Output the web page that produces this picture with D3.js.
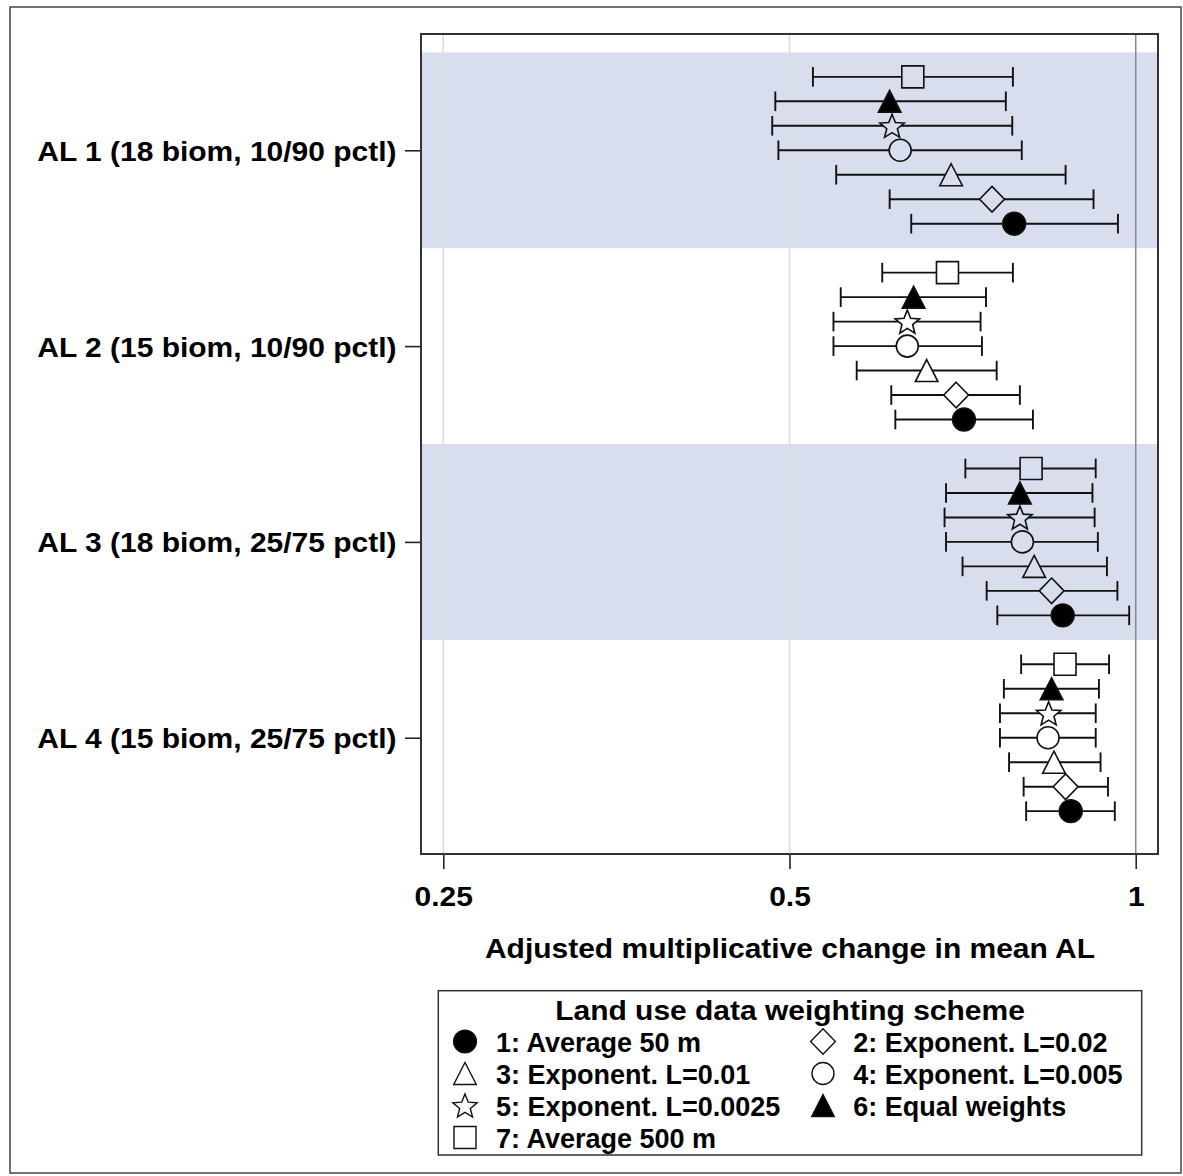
<!DOCTYPE html>
<html><head><meta charset="utf-8">
<script src="https://cdn.jsdelivr.net/npm/d3@7"></script>
<style>
body{margin:0;background:#fff}
text{font-family:"Liberation Sans",Arial,Helvetica,sans-serif;font-weight:bold;fill:#000}
</style>
</head><body>
<svg id="c" width="1183" height="1176"></svg>
<script>
// ---------- data ----------
const groups = [
  "AL 1 (18 biom, 10/90 pctl)",
  "AL 2 (15 biom, 10/90 pctl)",
  "AL 3 (18 biom, 25/75 pctl)",
  "AL 4 (15 biom, 25/75 pctl)"
];
const seriesNames = [
  "1: Average 50 m",
  "2: Exponent. L=0.02",
  "3: Exponent. L=0.01",
  "4: Exponent. L=0.005",
  "5: Exponent. L=0.0025",
  "6: Equal weights",
  "7: Average 500 m"
];
const seriesSymbols = ["circleFilled","diamond","triangle","circle","star","triangleFilled","square"];
// estimates per series (rows) and per group (columns)
const estimate = [
  [0.784, 0.709, 0.864, 0.878],
  [0.750, 0.698, 0.845, 0.869],
  [0.691, 0.658, 0.816, 0.849],
  [0.624, 0.633, 0.797, 0.839],
  [0.614, 0.633, 0.793, 0.840],
  [0.611, 0.641, 0.793, 0.845],
  [0.640, 0.686, 0.811, 0.868]
];
const lower = [
  [0.638, 0.618, 0.758, 0.803],
  [0.611, 0.613, 0.742, 0.799],
  [0.549, 0.572, 0.707, 0.776],
  [0.489, 0.546, 0.684, 0.762],
  [0.483, 0.546, 0.682, 0.762],
  [0.486, 0.554, 0.684, 0.768],
  [0.524, 0.602, 0.711, 0.795]
];
const upper = [
  [0.965, 0.814, 0.987, 0.959],
  [0.919, 0.793, 0.964, 0.946],
  [0.869, 0.757, 0.944, 0.932],
  [0.796, 0.735, 0.927, 0.923],
  [0.781, 0.733, 0.921, 0.923],
  [0.771, 0.741, 0.917, 0.929],
  [0.782, 0.782, 0.923, 0.948]
];
const xTicks = [0.25, 0.5, 1];
const xTickLabels = ["0.25", "0.5", "1"];
const xTitle = "Adjusted multiplicative change in mean AL";
const legendTitle = "Land use data weighting scheme";

// ---------- layout ----------
const L = 421, R = 1158, T = 34, B = 854;
const bandColor = "#d8deee";
const svg = d3.select("#c");

svg.append("rect").attr("x", 10).attr("y", 7).attr("width", 1171).attr("height", 1166)
  .attr("fill", "#fff").attr("stroke", "#444").attr("stroke-width", 1.5);

const x = d3.scaleLog().domain([0.2391, 1.0456]).range([L, R]);
const y = d3.scaleLinear().domain([-1.75, 31.75]).range([T, B]);
const rowOf = (s, g) => g * 8 + (6 - s);

// bands
groups.forEach((g, i) => {
  if (i % 2 === 0) {
    svg.append("rect").attr("x", L).attr("width", R - L)
      .attr("y", y(i * 8 - 1)).attr("height", y(i * 8 + 7) - y(i * 8 - 1))
      .attr("fill", bandColor);
  }
});

// gridlines
svg.append("g").selectAll("line").data(xTicks).join("line")
  .attr("x1", d => x(d)).attr("x2", d => x(d)).attr("y1", T).attr("y2", B)
  .attr("stroke", d => d === 1 ? "#8a8a8a" : "#dcdcdc").attr("stroke-width", 1.5);

// ---------- symbols ----------
function symPath(type) {
  const p = d3.path();
  switch (type) {
    case "circle": case "circleFilled": {
      const r = type === "circle" ? 11 : 11.4;
      p.moveTo(r, 0); p.arc(0, 0, r, 0, 2 * Math.PI); p.closePath(); break;
    }
    case "square": p.rect(-11, -11, 22, 22); break;
    case "triangle": case "triangleFilled":
      p.moveTo(0, -11); p.lineTo(11.3, 11); p.lineTo(-11.3, 11); p.closePath(); break;
    case "diamond":
      p.moveTo(0, -12.8); p.lineTo(12.4, 0); p.lineTo(0, 12.8); p.lineTo(-12.4, 0); p.closePath(); break;
    case "star": {
      const Ro = 12.8, Ri = 5.6, off = (Ro - Ro * Math.cos(Math.PI / 5)) / 2;
      for (let i = 0; i < 10; i++) {
        const r = i % 2 ? Ri : Ro, a = -Math.PI / 2 + i * Math.PI / 5;
        const px = r * Math.cos(a), py = r * Math.sin(a) + off;
        if (i === 0) p.moveTo(px, py); else p.lineTo(px, py);
      }
      p.closePath(); break;
    }
  }
  return p.toString();
}
const isFilled = t => t === "circleFilled" || t === "triangleFilled";

// ---------- error bars ----------
const pts = [];
for (let s = 6; s >= 0; s--) {
  for (let g = 0; g < groups.length; g++) {
    pts.push({ s, g, est: estimate[s][g], lo: lower[s][g], hi: upper[s][g] });
  }
}
const bars = svg.append("g").attr("stroke", "#111").attr("stroke-width", 1.9).attr("fill", "none");
pts.forEach(d => {
  const yy = y(rowOf(d.s, d.g));
  bars.append("line").attr("x1", x(d.lo)).attr("x2", x(d.hi)).attr("y1", yy).attr("y2", yy);
  [d.lo, d.hi].forEach(v => bars.append("line").attr("x1", x(v)).attr("x2", x(v)).attr("y1", yy - 9.8).attr("y2", yy + 9.8));
});

// markers
svg.append("g").selectAll("path").data(pts).join("path")
  .attr("transform", d => `translate(${x(d.est)},${y(rowOf(d.s, d.g))})`)
  .attr("d", d => symPath(seriesSymbols[d.s]))
  .attr("fill", d => isFilled(seriesSymbols[d.s]) ? "#000" : (d.g % 2 === 0 ? bandColor : "#fff"))
  .attr("stroke", "#111").attr("stroke-width", 1.6);

// ---------- axes ----------
const stretch = sel => sel.each(function () {
  const w = this.getComputedTextLength();
  d3.select(this).attr("textLength", w * 1.11).attr("lengthAdjust", "spacingAndGlyphs");
});

const xAxis = svg.append("g").attr("transform", `translate(0,${B})`)
  .call(d3.axisBottom(x).tickValues(xTicks).tickFormat((d, i) => xTickLabels[i]).tickSize(15).tickPadding(18));
xAxis.select(".domain").remove();
xAxis.selectAll(".tick line").attr("stroke", "#222").attr("stroke-width", 1.6);
xAxis.selectAll(".tick text").attr("font-size", 27).attr("fill", "#000").call(stretch);

const yAxis = svg.append("g").attr("transform", `translate(${L},0)`)
  .call(d3.axisLeft(y).tickValues(groups.map((g, i) => i * 8 + 3)).tickFormat((d, i) => groups[i]).tickSize(16).tickPadding(8.5));
yAxis.select(".domain").remove();
yAxis.selectAll(".tick line").attr("stroke", "#222").attr("stroke-width", 1.6);
yAxis.selectAll(".tick text").attr("font-size", 27).attr("fill", "#000").attr("dy", "0.37em").call(stretch);

svg.append("text").attr("x", 790).attr("y", 958).attr("text-anchor", "middle")
  .attr("font-size", 27).text(xTitle).call(stretch);

// plot frame
svg.append("rect").attr("x", L).attr("y", T).attr("width", R - L).attr("height", B - T)
  .attr("fill", "none").attr("stroke", "#333").attr("stroke-width", 2);

// ---------- legend ----------
const lg = svg.append("g");
lg.append("rect").attr("x", 438.3).attr("y", 990.7).attr("width", 703.4).attr("height", 164.3)
  .attr("fill", "#fff").attr("stroke", "#333").attr("stroke-width", 1.5);
lg.append("text").attr("x", 790).attr("y", 1019.7).attr("text-anchor", "middle")
  .attr("font-size", 27).text(legendTitle).call(stretch);
seriesNames.forEach((name, i) => {
  const col = i % 2, row = Math.floor(i / 2);
  const base = 1052 + row * 32;
  const mx = col ? 823 : 465, tx = col ? 853.3 : 496;
  lg.append("path").attr("transform", `translate(${mx},${base - 10.5})`)
    .attr("d", symPath(seriesSymbols[i]))
    .attr("fill", isFilled(seriesSymbols[i]) ? "#000" : "#fff")
    .attr("stroke", "#111").attr("stroke-width", 1.4);
  lg.append("text").attr("x", tx).attr("y", base).attr("font-size", 27).text(name);
});
</script>
</body></html>
